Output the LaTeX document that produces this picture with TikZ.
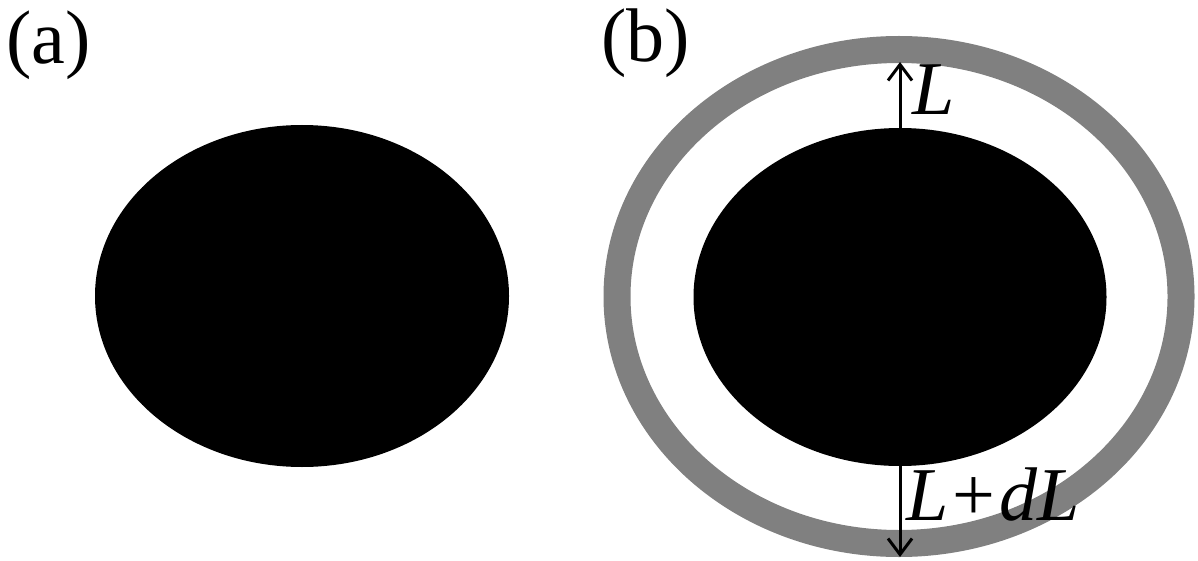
\documentclass[tikz,border=0pt]{standalone}
\usepackage{fontspec}
\setmainfont{Liberation Serif}
\usetikzlibrary{shapes.geometric,arrows.meta}
\definecolor{shell}{gray}{0.5}
\tikzset{
    blob/.style = {ellipse, fill = black, inner sep = 0pt},
    gap/.style = {line width = 1.5pt, -{Straight Barb[length=8pt,width=12pt,line width=1.5pt]}},
    lab/.style = {font = \fontsize{38}{42}\selectfont, inner sep = 0pt}
}
\begin{document}
\begin{tikzpicture}[x = 0.5pt, y = -0.5pt]
    \useasboundingbox (0,0) rectangle (1198,561);
    % (a) the bare body
    \node[blob, minimum width = 207pt, minimum height = 171pt] (bodyA) at (302,296) {};
    \node[lab, anchor = base west] (tagA) at (6,64) {(a)};
    % (b) the body with its shell
    \draw[shell, line width = 13.5pt] (899,296.5) ellipse [x radius = 282, y radius = 247];
    \node[blob, minimum width = 206.5pt, minimum height = 169pt] (bodyB) at (900,297) {};
    \node[lab, anchor = base west] (tagB) at (601,62) {(b)};
    \coordinate (shellIn) at (900,62);
    \coordinate (shellOut) at (900,557);
    \draw[gap] (bodyB.north) -- (shellIn);
    \draw[gap] (bodyB.south) -- (shellOut);
    \node[lab, anchor = base west] (lenIn) at (912,115) {\textit{L}};
    \node[lab, anchor = base west] (lenOut) at (906,520) {\textit{L}\hspace{2pt}+\hspace{2pt}\textit{dL}};
\end{tikzpicture}
\end{document}
